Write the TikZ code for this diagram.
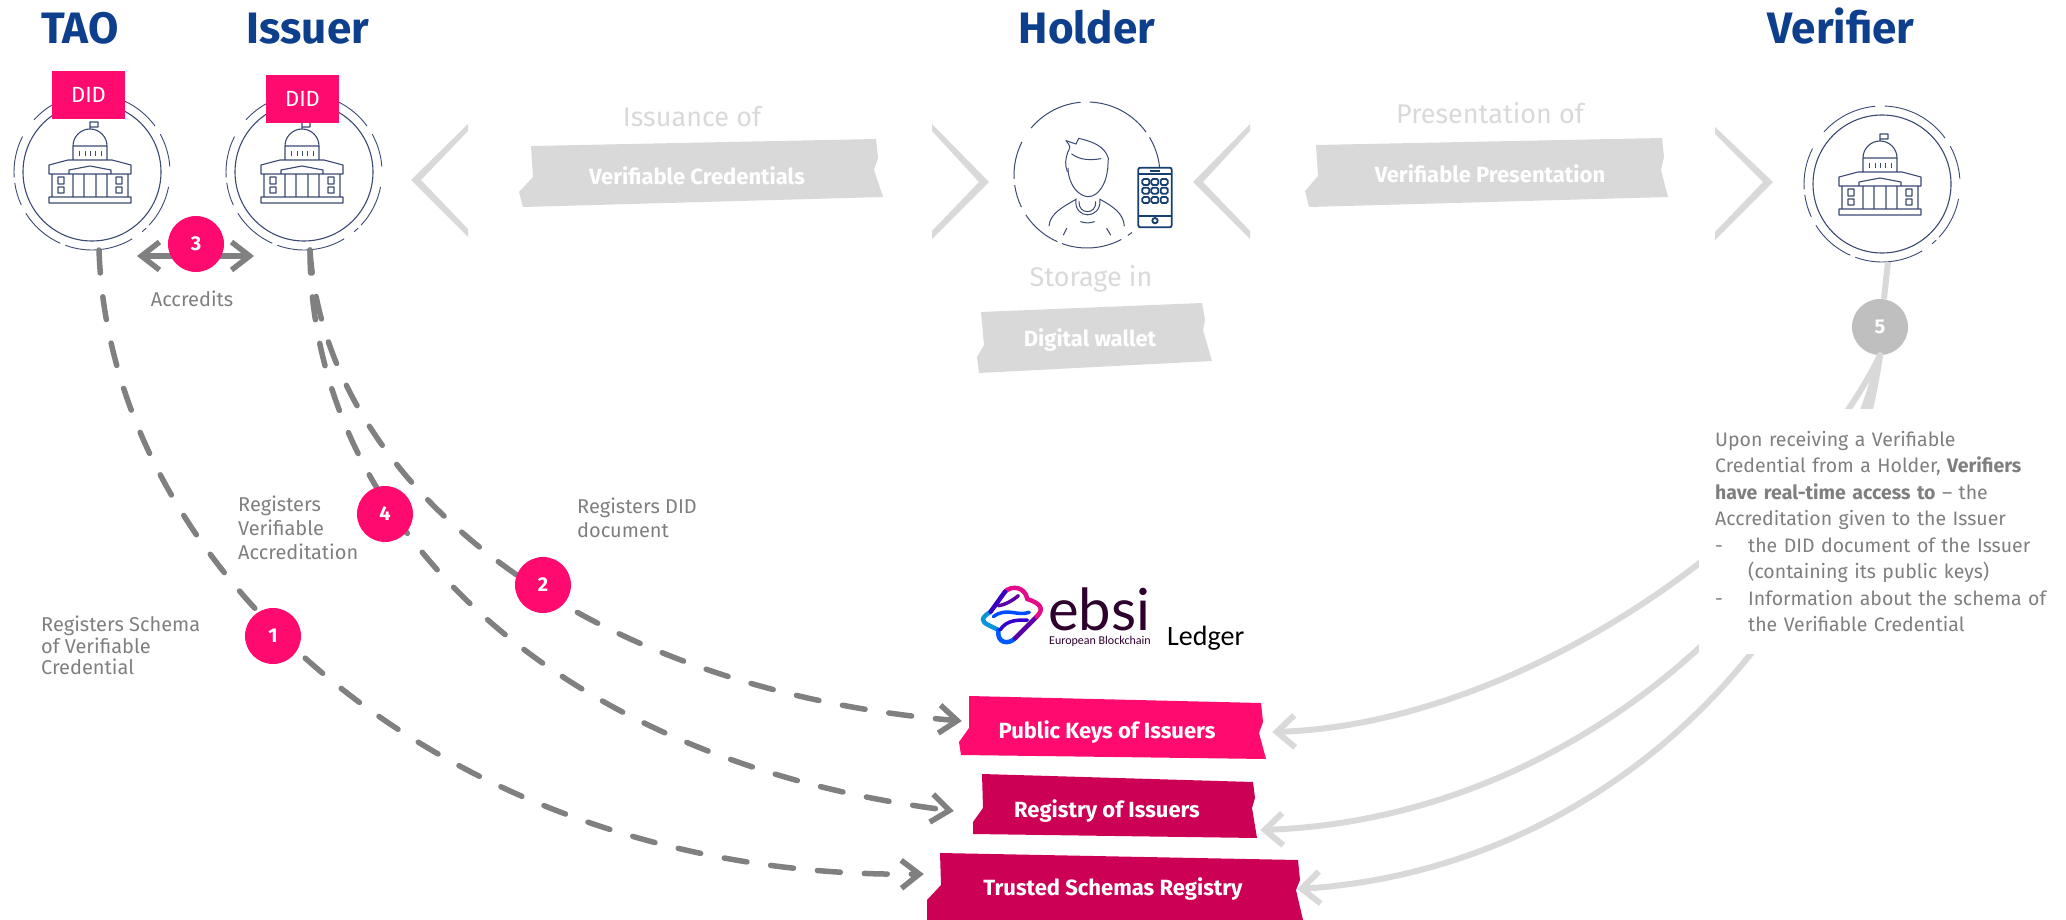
\documentclass[tikz,border=0pt]{standalone}
\usepackage{fontspec}
\setmainfont{Fira Sans}
\newfontfamily\ledgerfont{Carlito}
\newfontfamily\ebsifont{Lato}
\usetikzlibrary{arrows.meta}

\definecolor{titleblue}{HTML}{0E3F8C}
\definecolor{linenavy}{HTML}{3B4A72}
\definecolor{phoneblue}{HTML}{173F70}
\definecolor{hotpink}{HTML}{FF0A6E}
\definecolor{deeppink}{HTML}{CC0055}
\definecolor{pale}{HTML}{D9D9D9}
\definecolor{flowgrey}{HTML}{808080}
\definecolor{notegrey}{HTML}{7F7F7F}

\tikzset{
  titletext/.style={text=titleblue, font=\fontsize{44}{44}\selectfont\bfseries, anchor=base},
  palehead/.style={text=pale, font=\fontsize{27}{27}\selectfont},
  bartext/.style={text=white, inner sep=0pt, font=\fontsize{22}{22}\selectfont\bfseries},
  note/.style={text=notegrey, anchor=north west, align=left, inner sep=0pt, font=\fontsize{20}{24}\selectfont},
  org/.style={circle, draw=linenavy, line width=1.1pt, minimum size=138pt, inner sep=0pt, outer sep=9pt},
  didbox/.style={fill=hotpink, text=white, minimum width=73pt, minimum height=48pt, inner sep=0pt, font=\fontsize{22}{22}\selectfont},
  stepdot/.style={circle, fill=hotpink, text=white, minimum size=56pt, inner sep=0pt, font=\fontsize{20}{20}\selectfont\bfseries},
  flow/.style={draw=flowgrey, line width=5.5pt, line cap=round, dash pattern=on 23pt off 24pt, -{Straight Barb[length=18pt,width=28pt]}},
  access/.style={draw=pale, line width=6pt, line cap=round, -{Straight Barb[length=18pt,width=32pt]}},
  pics/ring/.style={code={
    \foreach \from/\to in {295/324,331/356,11/43,46/50,59/110,114/148,155/172,176/207,222/265,272/295} {
      \draw[linenavy, line width=0.9pt] (\from:78) arc (\from:\to:78);
    }
  }},
  pics/building/.style={code={
    \draw[linenavy, line width=1.1pt, line join=round]
      (-41,25) rectangle (41,31)
      (-38,2) -- (-38,25) (38,2) -- (38,25)
      (-41,-7) -- (-41,2) -- (41,2) -- (41,-7) -- (22,-12) -- (-22,-12) -- cycle
      (-21,2) -- (-21,-2) -- (0,-6) -- (21,-2) -- (21,2) -- cycle
      (-17,2) -- (-17,25) (-6,2) -- (-6,25) (6,2) -- (6,25) (17,2) -- (17,25)
      (-32,5) rectangle (-26,12) (-32,15) rectangle (-26,21)
      (26,5) rectangle (32,12) (26,15) rectangle (32,21)
      (-17,-12) -- (-17,-26) arc (180:360:17) -- (17,-12)
      (-17,-26) -- (17,-26)
      (0,-43) -- (0,-50) -- (8,-50) -- (8,-45) -- (0,-45);
    \draw[linenavy, line width=0.9pt]
      (-11,-21) -- (-11,-16) (-5,-21) -- (-5,-16) (0,-21) -- (0,-16) (5,-21) -- (5,-16) (11,-21) -- (11,-16);
  }}
}

\begin{document}
\begin{tikzpicture}[x=1pt, y=-1pt]
    \useasboundingbox (0,0) rectangle (2066,920);

    % Titles
    \node[titletext] (taotitle) at (80,44) {TAO};
    \node[titletext] (issuertitle) at (308,44) {Issuer};
    \node[titletext] (holdertitle) at (1087,44) {Holder};
    \node[titletext] (verifiertitle) at (1841,44) {Verifier};

    % Organisations
    \node[org] (tao) at (92,172) {};
    \node[org] (issuer) at (304,172) {};
    \node[org] (verifier) at (1882,184) {};
    \pic at (tao.center) {ring};
    \pic at (issuer.center) {ring};
    \pic at (verifier.center) {ring};
    \pic at ([xshift=-2pt]tao.center) {building};
    \pic at ([xshift=-2pt]issuer.center) {building};
    \pic at ([xshift=-2pt]verifier.center) {building};
    \node[didbox] (taodid) at (88.5,95) {DID};
    \node[didbox] (issuerdid) at (302.5,99) {DID};

    % Holder
    \node[circle, minimum size=146pt, inner sep=0pt] (holder) at (1087,175) {};
    \foreach \from/\to in {-7/45,52/56,62/110,114/147,154/172,177/207,220/265,272/324,329/353} {
      \draw[linenavy, line width=1pt] (holder) ++(\from:73) arc (\from:\to:73);
    }
    \begin{scope}[shift={(940,100)}, x=0.3333pt, y=-0.3333pt, linenavy, line width=1pt, line cap=round]
      % Man
      \draw (378,122) -- (408,132) -- (416,115) .. controls (460,125) and (495,140) .. (505,175) -- (503,210);
      \draw (378,122) .. controls (392,140) .. (384,155) .. controls (375,180) and (375,195) .. (382,215);
      \draw (395,162) .. controls (420,180) and (450,182) .. (482,176);
      \draw (384,205) .. controls (386,260) and (420,290) .. (445,290) .. controls (475,290) and (500,250) .. (503,205);
      \draw (327,378) .. controls (330,340) and (370,320) .. (408,298) .. controls (400,360) and (485,360) .. (480,298) .. controls (520,320) and (550,340) .. (553,378);
      \draw (417,305) .. controls (415,345) and (470,345) .. (467,305);
      \draw (422,365) .. controls (435,370) and (450,370) .. (463,365);
      \draw (380,385) -- (370,405) (500,385) -- (512,405);
    \end{scope}
    \begin{scope}[shift={(940,100)}, x=0.3333pt, y=-0.3333pt, phoneblue, line width=1.8pt]
      % Phone
      \draw[fill=white, rounded corners=2pt] (595,203) rectangle (695,382);
      \draw (595,222) -- (695,222) (595,347) -- (695,347);
      \draw (630,212) -- (660,212);
      \draw (645,362) circle (8);
      \foreach \col in {607,634,662} {
        \foreach \row in {237,263,291} {
          \draw[rounded corners=1.5pt] (\col,\row) rectangle ++(21,18);
        }
      }
    \end{scope}

    % Chevrons
    \fill[pale] (468,124) -- (411,180) -- (468,237) -- (468,229) -- (421,180) -- (468,131) -- cycle;
    \fill[pale] (932,124) -- (989,182) -- (932,239) -- (932,231) -- (979,182) -- (932,131) -- cycle;
    \fill[pale] (1250,124) -- (1193,182) -- (1250,239) -- (1250,231) -- (1203,182) -- (1250,131) -- cycle;
    \fill[pale] (1715,127) -- (1773,182) -- (1715,240) -- (1715,232) -- (1763,182) -- (1715,134) -- cycle;

    % Pale bars
    \fill[pale] (531,146) -- (876,139) -- (878,158) -- (874,170) -- (883,197) -- (523,207) -- (519,192) -- (533,177) -- cycle;
    \fill[pale] (1316,145) -- (1662,138) -- (1664,157) -- (1661,170) -- (1668,197) -- (1309,207) -- (1305,191) -- (1318,176) -- cycle;
    \fill[pale] (981,312) -- (1202,303) -- (1205,320) -- (1203,330) -- (1212,361) -- (979,373) -- (977,357) -- (984,345) -- cycle;
    \node[palehead] (issuancehead) at (692,117) {Issuance of};
    \node[palehead] (presenthead) at (1490,113) {Presentation of};
    \node[palehead] (storagehead) at (1091,279) {Storage in};
    \node[bartext] (issuancebar) at (697,176) {Verifiable Credentials};
    \node[bartext] (presentbar) at (1490,174) {Verifiable Presentation};
    \node[bartext] (walletbar) at (1090,340) {Digital wallet};

    % Ledger bars
    \fill[hotpink] (969,696) -- (1261,703) -- (1263,722) -- (1259,733) -- (1266,759) -- (961,755) -- (959,742) -- (969,728) -- cycle;
    \fill[deeppink] (982,774) -- (1253,782) -- (1255,798) -- (1252,808) -- (1257,838) -- (973,834) -- (973,822) -- (983,808) -- cycle;
    \fill[deeppink] (940,853) -- (1298,860) -- (1300,880) -- (1296,890) -- (1303,920) -- (927,920) -- (927,900) -- (941,885) -- cycle;
    \node[bartext, minimum width=290pt] (pubkeys) at (1107,732) {Public Keys of Issuers};
    \node[bartext, minimum width=306pt] (registry) at (1107,811) {Registry of Issuers};
    \node[bartext, minimum width=378pt] (schemas) at (1113,889) {Trusted Schemas Registry};

    % Logo
    \begin{scope}[shift={(970,575)}, x=0.3333pt, y=-0.3333pt, line width=4.5pt, line cap=round]
      \draw[color=cyan!80!blue] (62,110) .. controls (30,130) and (35,140) .. (55,150) -- (85,165);
      \draw[color=blue!65!cyan] (85,165) .. controls (80,205) and (115,210) .. (135,190);
      \draw[color=violet!70!blue] (135,190) -- (200,125);
      \draw[color=magenta!90!violet] (200,125) .. controls (225,100) and (210,85) .. (172,72) .. controls (165,35) and (125,30) .. (105,50);
      \draw[color=blue!55!violet] (105,50) -- (62,110);
      \draw[color=violet!70!blue, line width=3.5pt] (85,92) .. controls (105,90) and (130,75) .. (145,62);
      \draw[color=blue!70!cyan, line width=3.5pt] (70,125) .. controls (110,95) and (140,125) .. (178,112);
      \draw[color=blue!60!violet, line width=3.5pt] (90,165) .. controls (110,135) and (140,135) .. (172,135);
    \end{scope}
    \node[anchor=base west, inner sep=0pt, text=violet!35!black, font=\ebsifont\fontsize{58}{58}\selectfont] (ebsiword) at (1048,630) {ebsi};
    \node[anchor=base west, inner sep=0pt, text=violet!35!black, font=\ledgerfont\fontsize{12}{12}\selectfont] (ebsisub) at (1049,644) {European Blockchain};
    \node[anchor=base west, inner sep=0pt, text=black, font=\ledgerfont\fontsize{28}{28}\selectfont] (ledger) at (1167,645) {Ledger};

    % Step 5 and verifier access
    \node[stepdot, fill=black!25] (stepfive) at (1880,327) {5};
    \draw[draw=pale, line width=6pt] ([xshift=6pt]verifier.south) -- ([xshift=4pt]stepfive.north);
    \draw[access] (stepfive.south) .. controls (1790,540) and (1510,725) .. ([xshift=20pt]pubkeys.east);
    \draw[access] (stepfive.south) .. controls (1820,600) and (1560,820) .. ([yshift=-19pt]registry.east);
    \draw[access] (stepfive.south) .. controls (1840,640) and (1600,870) .. ([xshift=-5pt]schemas.east);
    \node[fill=white, anchor=north west, text=notegrey, align=left, inner xsep=16pt, inner ysep=22pt, text width=335pt, font=\fontsize{19.5}{26.5}\selectfont] (accessnote) at (1699,409)
      {Upon receiving a Verifiable\\
       Credential from a Holder, \textbf{Verifiers}\\
       \textbf{have real-time access to} -- the\\
       Accreditation given to the Issuer\\
       \makebox[33pt][l]{-}the DID document of the Issuer\\
       \makebox[33pt][l]{}(containing its public keys)\\
       \makebox[33pt][l]{-}Information about the schema of\\
       \makebox[33pt][l]{}the Verifiable Credential};

    % Registering flows
    \draw[flow] ([xshift=7pt]tao.south) .. controls (110,580) and (460,880) .. ([yshift=15pt]schemas.west);
    \draw[flow] ([xshift=6pt]issuer.south) .. controls (325,490) and (590,690) .. ([yshift=11pt]pubkeys.west);
    \draw[flow] ([xshift=6pt]issuer.south) .. controls (310,520) and (550,760) .. (registry.west);

    % Accredits arrow
    \coordinate (accleft) at (137,256);
    \coordinate (accright) at (254,256);
    \draw[draw=flowgrey, line width=5.5pt, {Straight Barb[length=18pt,width=28pt]}-{Straight Barb[length=18pt,width=28pt]}] (accleft) -- (accright);

    % Step dots
    \node[stepdot] (stepone) at (273,636) {1};
    \node[stepdot] (steptwo) at (543,585) {2};
    \node[stepdot] (stepthree) at (196,244) {3};
    \node[stepdot] (stepfour) at (385,514) {4};

    % Labels
    \node[note, anchor=north] (accredits) at (192,291) {Accredits};
    \node[note, font=\fontsize{20}{21.5}\selectfont] (regschema) at (41,616) {Registers Schema\\of Verifiable\\Credential};
    \node[note] (regaccred) at (238,496) {Registers\\Verifiable\\Accreditation};
    \node[note] (regdid) at (577,498) {Registers DID\\document};
\end{tikzpicture}
\end{document}
